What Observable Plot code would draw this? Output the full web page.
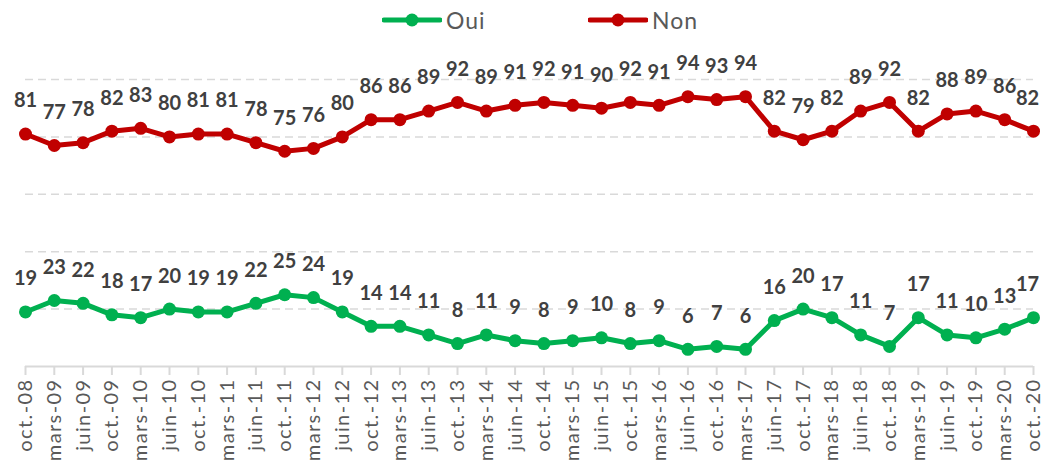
<!DOCTYPE html>
<html>
<head>
<meta charset="utf-8">
<script src="https://cdn.jsdelivr.net/npm/d3@7"></script>
<script src="https://cdn.jsdelivr.net/npm/@observablehq/plot@0.6"></script>
<style>
  html, body { margin: 0; padding: 0; background: #fff; overflow: hidden; }
  #legend { position: relative; width: 1042px; height: 40px; font-family: Lato, "DejaVu Sans", sans-serif; }
  .lg { position: absolute; top: 0; height: 40px; display: flex; align-items: center; }
  .lg span { font-size: 23px; color: #595959; letter-spacing: 1px; margin-left: 4px; }
  #chart svg [aria-label="x-axis tick label"] text { letter-spacing: 1.4px; }
</style>
</head>
<body>
<div id="legend"></div>
<div id="chart"></div>
<script>
const dates = ["oct.-08","mars-09","juin-09","oct.-09","mars-10","juin-10","oct.-10","mars-11","juin-11","oct.-11","mars-12","juin-12","oct.-12","mars-13","juin-13","oct.-13","mars-14","juin-14","oct.-14","mars-15","juin-15","oct.-15","mars-16","juin-16","oct.-16","mars-17","juin-17","oct.-17","mars-18","juin-18","oct.-18","mars-19","juin-19","oct.-19","mars-20","oct.-20"];
const oui = [19,23,22,18,17,20,19,19,22,25,24,19,14,14,11,8,11,9,8,9,10,8,9,6,7,6,16,20,17,11,7,17,11,10,13,17];
const non = [81,77,78,82,83,80,81,81,78,75,76,80,86,86,89,92,89,91,92,91,90,92,91,94,93,94,82,79,82,89,92,82,88,89,86,82];
const series = ["Oui","Non"];
const colors = ["#00B050","#C00000"];
const gridValues = [20,40,60,80,100];

const data = dates.flatMap((d,i) => [
  {i, date: d, serie: "Oui", v: oui[i]},
  {i, date: d, serie: "Non", v: non[i]}
]);
const last = dates.length - 1;

// legend
const legend = document.getElementById("legend");
const legendX = [382, 588];
series.forEach((s,k) => {
  const div = document.createElement("div");
  div.className = "lg";
  div.style.left = legendX[k] + "px";
  div.innerHTML = `<svg width="60" height="14"><line x1="2" y1="7" x2="58" y2="7" stroke="${colors[k]}" stroke-width="5" stroke-linecap="round"/><circle cx="30" cy="7" r="6.5" fill="${colors[k]}"/></svg><span>${s}</span>`;
  legend.appendChild(div);
});

const W = 1042, ML = 25, MR = 9;
const labelStyle = {x: "i", y: "v", text: "v", dy: -33, fill: "#404040", fontWeight: "bold", fontSize: 20};
const chart = Plot.plot({
  width: W,
  height: 425,
  marginLeft: ML,
  marginRight: MR,
  marginTop: 39,
  marginBottom: 99,
  style: {fontFamily: "Lato, 'DejaVu Sans', sans-serif", background: "#fff", overflow: "visible"},
  x: {type: "linear", domain: [0, last], label: null},
  y: {domain: [0, 100], axis: null},
  color: {domain: series, range: colors},
  marks: [
    Plot.ruleY(gridValues, {stroke: "#d9d9d9", strokeWidth: 1.5, strokeDasharray: "8,5"}),
    Plot.ruleY([0], {stroke: "#d9d9d9", strokeWidth: 2}),
    Plot.axisX({ticks: d3.range(dates.length), tickFormat: i => dates[i], tickRotate: -90, tickSize: 9, tickPadding: 3, stroke: "#d9d9d9", strokeWidth: 2, fill: "#595959", fontSize: 20, label: null}),
    Plot.line(data, {x: "i", y: "v", z: "serie", stroke: "serie", strokeWidth: 5}),
    Plot.dot(data, {x: "i", y: "v", fill: "serie", r: 6.5}),
    Plot.text(data.filter(d => d.i < last), labelStyle),
    Plot.text(data.filter(d => d.i === last), {...labelStyle, dx: -6})
  ]
});
document.getElementById("chart").appendChild(chart);
</script>
</body>
</html>
